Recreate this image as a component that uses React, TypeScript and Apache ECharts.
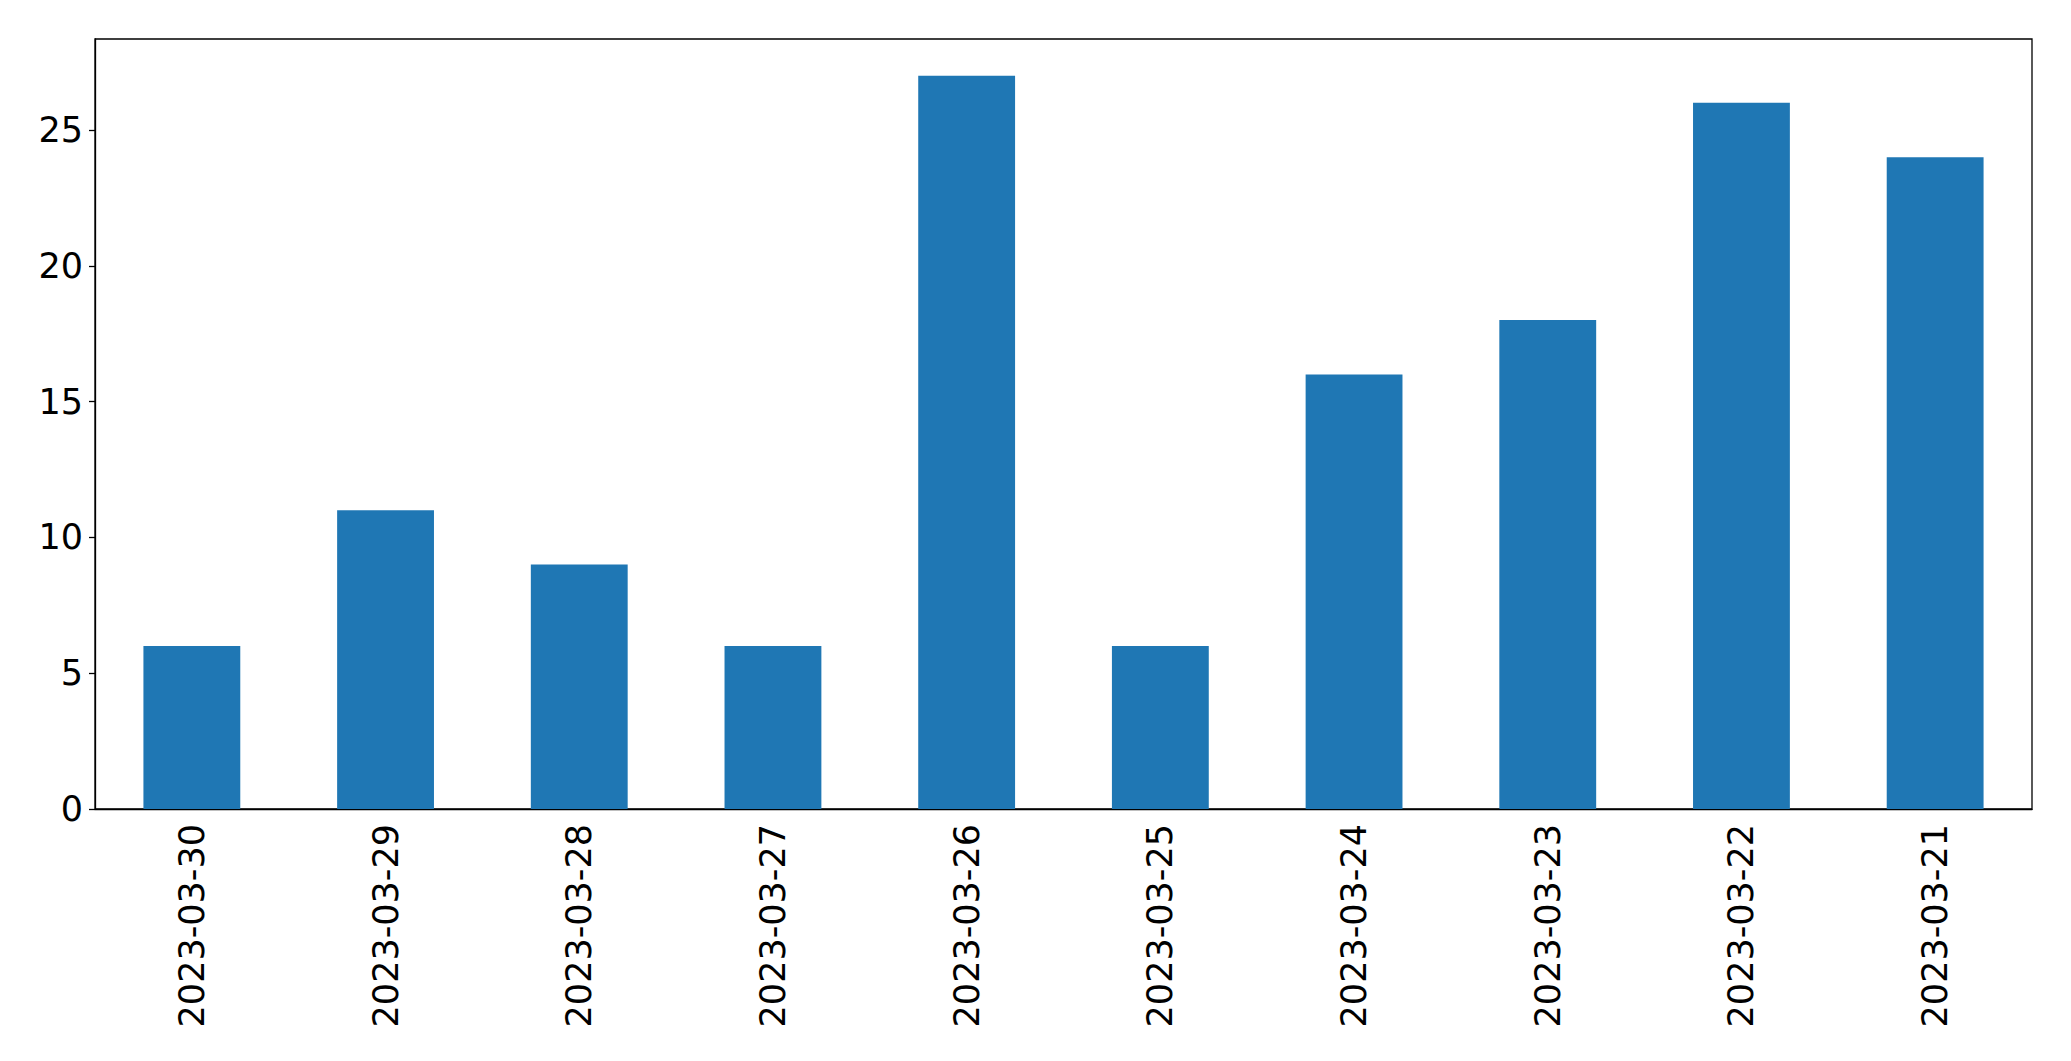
import React, { useEffect, useRef } from "react";
import * as echarts from "echarts";

const categories = [
  "2023-03-30", "2023-03-29", "2023-03-28", "2023-03-27", "2023-03-26",
  "2023-03-25", "2023-03-24", "2023-03-23", "2023-03-22", "2023-03-21",
];
const values = [6, 11, 9, 6, 27, 6, 16, 18, 26, 24];
const yTicks = [0, 5, 10, 15, 20, 25];

export default function App() {
  const ref = useRef<HTMLDivElement>(null);
  useEffect(() => {
    const chart = echarts.init(ref.current!, null, { renderer: "svg" });
    const font = "DejaVu Sans";
    chart.setOption({
      animation: false,
      backgroundColor: "#fff",
      grid: {
        left: 95, right: 39, top: 39, bottom: 252,
        show: true, borderColor: "#000", borderWidth: 1.3, backgroundColor: "transparent",
      },
      xAxis: {
        type: "category",
        data: categories,
        axisLine: { lineStyle: { color: "#000", width: 1.3 } },
        axisTick: { alignWithLabel: true, length: 6, lineStyle: { color: "#000", width: 1.3 } },
        axisLabel: { rotate: 90, margin: 15, fontSize: 35, fontFamily: font, color: "#000" },
      },
      yAxis: {
        type: "value",
        min: 0,
        max: 28.35,
        interval: 5,
        splitLine: { show: false },
        axisLine: { show: true, lineStyle: { color: "#000", width: 1.3 } },
        axisTick: { show: true, length: 6, lineStyle: { color: "#000", width: 1.3 } },
        axisLabel: {
          margin: 12, fontSize: 35, fontFamily: font, color: "#000",
          showMaxLabel: false,
          formatter: (v: number) => (yTicks.includes(v) ? String(v) : ""),
        },
      },
      series: [
        {
          type: "bar",
          data: values,
          barWidth: "50%",
          itemStyle: { color: "#1f77b4" },
        },
      ],
    });
    return () => chart.dispose();
  }, []);
  return (
    <div
      ref={ref}
      style={{ position: "fixed", left: 0, top: 0, width: 2071, height: 1061 }}
    />
  );
}
